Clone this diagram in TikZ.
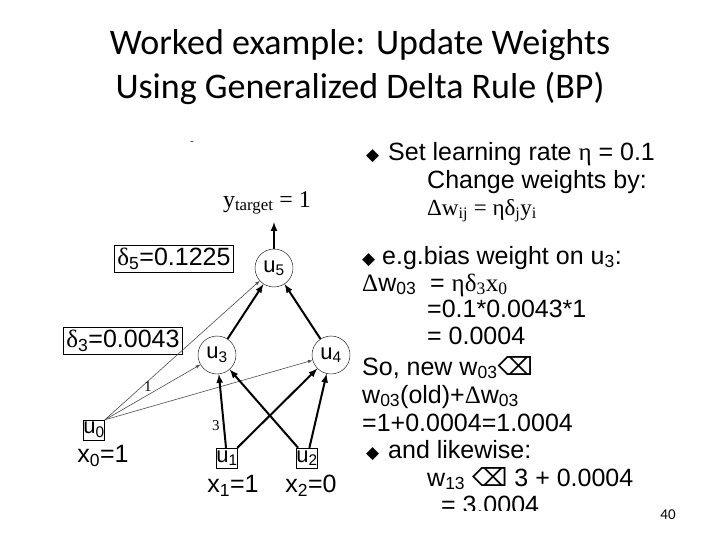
\documentclass[tikz,border=0pt]{standalone}
\usepackage{fontspec}
\setmainfont{Liberation Sans}
\newfontfamily\titlefont{Carlito}
\newfontfamily\symfont{DejaVu Sans}
\newfontfamily\seriffont{Liberation Serif}
\usetikzlibrary{positioning,shapes.geometric}
\newcommand{\bx}{{\symfont\char"232B}}
\newcommand{\bul}{{\symfont\fontsize{17}{17}\selectfont\char"25C6}}
\newcommand{\sub}[1]{\textsubscript{#1}}
\begin{document}
\begin{tikzpicture}[x=1pt, y=-1pt,
    unit/.style={draw, circle, minimum size=38pt, inner sep=0pt, font=\fontsize{22}{22}\selectfont},
    inp/.style={draw, rectangle, minimum width=21pt, minimum height=20pt, inner sep=0pt, font=\fontsize{22}{22}\selectfont},
    dbox/.style={draw, rectangle, inner sep=3pt, font=\fontsize{25}{25}\selectfont},
    txt/.style={anchor=base west, inner sep=0pt, font=\fontsize{25}{25}\selectfont},
    lbl/.style={font=\fontsize{25}{25}\selectfont},
    thick arrow/.style={->, >=latex, line width=2pt},
    thin arrow/.style={->, >=latex, line width=0.6pt, gray!60!black}]
  \useasboundingbox (0,0) rectangle (720,540);
  % Title
  \node[font=\titlefont\fontsize{36}{36}\selectfont] (title1) at (360,45) {Worked example: Update Weights};
  \node[font=\titlefont\fontsize{36}{36}\selectfont] (title2) at (360,88) {Using Generalized Delta Rule (BP)};
  \node (dash) at (192,143) {-};

  % Network
  \node[unit] (u5) at (274,268) {u\sub{5}};
  \node[unit] (u3) at (217,355) {u\sub{3}};
  \node[unit] (u4) at (331,355) {u\sub{4}};
  \node[inp] (u0) at (94,430) {u\sub{0}};
  \node[inp] (u1) at (227,458) {u\sub{1}};
  \node[inp] (u2) at (307,458) {u\sub{2}};
  \node[font=\seriffont\fontsize{24}{24}\selectfont] (yt) at (267,203) {y\sub{target} = 1};
  \coordinate (top) at (274,222);
  \node[lbl] (x0) at (103,456) {x\sub{0}=1};
  \node[lbl] (x1) at (233,486) {x\sub{1}=1};
  \node[lbl] (x2) at (311,486) {x\sub{2}=0};
  \node[dbox] (d5) at (174,259) {{\seriffont δ}\sub{5}=0.1225};
  \node[dbox] (d3) at (123,341) {{\seriffont δ}\sub{3}=0.0043};

  \draw[thin arrow] (u0.north east) -- (u5);
  \draw[thin arrow] (u0.north east) -- node[pos=0.45, above, black, font=\seriffont\fontsize{15}{15}\selectfont] (w03) {1} (u3);
  \draw[thin arrow] (u0.north east) -- (u4);
  \draw[thick arrow] (u1) -- node[pos=0.3, left, font=\seriffont\fontsize{15}{15}\selectfont] (w13) {3} (u3);
  \draw[thick arrow] (u1) -- (u4);
  \draw[thick arrow] (u2) -- (u3);
  \draw[thick arrow] (u2) -- (u4);
  \draw[thick arrow] (u3) -- (u5);
  \draw[thick arrow] (u4) -- (u5);
  \draw[thick arrow] (u5) -- (top);

  % Explanation text
  \begin{scope}
    \clip (355,130) rectangle (680,510);
    \node[txt] (b1) at (366,161) {\bul};
    \node[txt] (s1) at (388,161) {Set learning rate {\seriffont η} = 0.1};
    \node[txt] (s2) at (427,189) {Change weights by:};
    \node[txt, font=\seriffont\fontsize{23}{23}\selectfont] (s3) at (427,215) {Δw\sub{ij} = ηδ\sub{j}y\sub{i}};
    \node[txt] (b2) at (362,264) {\bul};
    \node[txt] (s4) at (382,264) {e.g.bias weight on u\sub{3}:};
    \node[txt] (s5) at (362,291) {{\seriffont Δ}w\sub{03}\ \ = {\seriffont ηδ\sub{3}x\sub{0}}};
    \node[txt] (s6) at (427,317) {=0.1*0.0043*1};
    \node[txt] (s7) at (427,344) {= 0.0004};
    \node[txt] (s8) at (362,375) {So, new w\sub{03}\bx};
    \node[txt] (s9) at (362,403) {w\sub{03}(old)+{\seriffont Δ}w\sub{03}};
    \node[txt] (s10) at (362,431) {=1+0.0004=1.0004};
    \node[txt] (b3) at (366,458) {\bul};
    \node[txt] (s11) at (388,458) {and likewise:};
    \node[txt] (s12) at (427,486) {w\sub{13} \bx\ 3 + 0.0004};
    \node[txt] (s13) at (427,513) {\ \ = 3.0004};
  \end{scope}
  \node[font=\titlefont\fontsize{15}{15}\selectfont] (page) at (668,515) {40};
\end{tikzpicture}
\end{document}
